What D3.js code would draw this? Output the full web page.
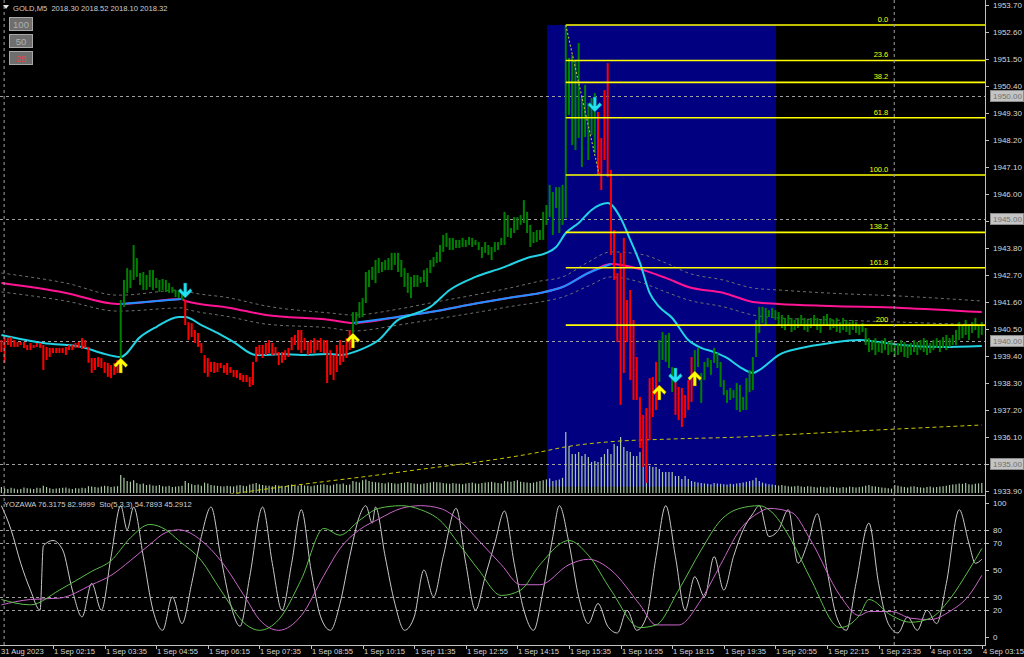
<!DOCTYPE html>
<html><head><meta charset="utf-8">
<script src="https://cdn.jsdelivr.net/npm/d3@7"></script>
<style>
html,body{margin:0;padding:0;background:#000;overflow:hidden;}
svg{display:block;}
text{font-family:Tahoma,"Liberation Sans",Arial,sans-serif;}
</style></head><body>
<svg id="c" width="1024" height="657"></svg>
<script>
// ---------------- DATA ----------------
const symbolTitle = "GOLD,M5";
const headerValues = ["2018.30","2018.52","2018.10","2018.32"];
const oscTitle = "YOZAWA 76.3175 82.9999  Sto(5,3,3) 54.7893 45.2912";

const barHigh = [
1940.05,1940.17,1940.13,1940.17,1940.05,1939.97,1939.97,1939.97,1939.85,1939.93,
1939.85,1939.93,1939.93,1939.85,1939.77,1939.73,1939.73,1939.73,1939.73,1939.73,
1939.77,1939.85,1939.85,1939.93,1939.97,1940.13,1940.05,1939.77,1939.32,1939.32,
1939.36,1939.32,1939.16,1939.12,1939.03,1939.12,1939.24,
1941.68,1942.50,1942.98,1942.90,1943.92,1943.39,1942.78,1942.82,1942.70,1942.90,
1942.90,1942.58,1942.50,1942.54,1942.50,1942.37,1942.21,1942.09,1942.09,1942.01,
1941.68,1940.78,1940.74,1940.46,1940.34,1939.93,1939.44,1939.32,1939.16,1939.16,
1939.12,1939.12,1939.03,1939.12,1938.95,1938.83,1938.83,1938.71,1938.63,1938.63,
1938.55,1939.16,1939.77,1939.85,1939.85,1939.93,1940.05,1939.93,1939.77,1939.56,
1939.56,1939.64,1939.73,1940.17,1940.26,1940.46,1940.46,1940.13,1939.97,1940.05,
1940.13,1940.05,1940.13,1940.05,1940.05,
1939.64,1939.44,1939.85,1940.05,1939.85,1940.13,1940.46,
1941.19,1941.19,1941.60,1941.76,1942.82,1942.90,1943.03,1943.31,1943.39,1943.23,
1943.31,1943.39,1943.60,1943.60,1943.60,1943.31,1942.98,1942.78,1942.62,1942.70,
1942.70,1942.62,1942.90,1942.98,1943.31,1943.43,1943.64,1943.92,1944.33,1944.41,
1944.21,1944.21,1944.13,1944.13,1944.21,1944.13,1944.25,1944.21,1944.13,1944.04,
1943.84,1944.04,1943.92,1943.84,1944.04,1944.04,1944.21,1945.27,1945.14,1944.61,
1945.06,1945.06,1945.14,1945.75,1945.27,1944.74,1944.45,1944.53,1944.53,1945.27,
1945.55,1946.37,1946.08,1946.28,1946.28,1946.37,
1952.88,1951.54,1951.66,1951.46,1952.15,1949.95,1950.44,1949.70,1949.91,1950.11,
1949.34,1948.28,1950.23,1951.33,1946.98,1944.53,1942.78,1943.60,1944.21,1941.68,
1942.09,1940.87,1939.36,1937.73,1937.00,1937.28,1938.50,1938.55,1939.16,1940.05,
1940.38,1940.26,1940.34,1938.95,1938.34,1938.14,1938.10,1937.81,1938.42,1939.36,
1939.64,1939.73,1938.71,1939.16,1939.32,1939.24,1939.73,1939.52,1939.16,1938.42,
1938.01,1938.10,1938.01,1938.30,1938.22,1937.73,1938.50,1938.83,1939.36,1940.87,
1941.40,1941.40,1941.36,1941.27,1941.36,1941.27,
1941.19,1941.07,1940.95,1941.07,1940.95,1940.87,1940.95,1941.07,1940.95,1940.87,
1940.95,1941.07,1940.95,1940.87,1941.03,1941.11,1940.95,1940.87,1940.95,1940.78,
1940.95,1940.87,1940.78,1940.87,1940.78,1940.66,1940.74,1940.54,1940.13,1940.05,
1940.13,1939.97,1940.05,1940.13,1939.97,1940.05,1939.85,1939.93,1940.05,1939.97,
1939.85,1939.93,1940.05,1939.97,1940.05,1940.13,1940.05,1939.93,1940.05,1940.13,
1940.05,1940.17,1940.26,1940.13,1940.26,1940.46,1940.78,1940.66,1940.87,1940.66,
1940.78,1940.95,1940.66,1940.78
];
const barLow = [
1939.56,1939.12,1939.85,1939.77,1939.77,1939.77,1939.85,1939.73,1939.64,1939.64,
1939.73,1939.77,1939.73,1938.83,1939.24,1939.36,1939.52,1939.52,1939.52,1939.52,
1939.44,1939.64,1939.64,1939.73,1939.73,1939.69,1939.73,1939.12,1938.71,1938.83,
1938.95,1938.91,1938.71,1938.55,1938.50,1938.63,1938.71,
1939.32,1941.40,1941.97,1942.17,1942.50,1942.62,1942.29,1942.09,1942.09,1942.21,
1942.09,1942.17,1942.01,1942.09,1942.01,1941.97,1941.97,1941.80,1941.76,1941.68,
1940.66,1940.05,1940.17,1939.93,1939.77,1939.52,1938.71,1938.55,1938.75,1938.71,
1938.75,1938.91,1938.71,1938.63,1938.71,1938.55,1938.50,1938.42,1938.34,1938.34,
1938.14,1938.22,1939.16,1939.44,1939.32,1939.44,1939.52,1939.44,1939.44,1939.03,
1939.12,1939.24,1939.36,1939.64,1939.85,1939.64,1939.52,1939.64,1939.44,1939.52,
1939.52,1939.64,1939.56,1939.52,1938.30,
1938.63,1938.42,1938.75,1939.03,1939.16,1939.32,1939.64,
1940.34,1940.66,1940.95,1940.99,1941.56,1942.21,1942.50,1942.37,1942.78,1942.82,
1942.90,1942.90,1942.90,1943.11,1942.82,1942.62,1942.21,1941.97,1941.76,1942.21,
1942.21,1942.37,1942.41,1942.21,1942.78,1943.03,1943.19,1943.23,1943.64,1943.84,
1943.72,1943.72,1943.80,1943.80,1943.84,1943.84,1943.92,1943.84,1943.92,1943.72,
1943.39,1943.60,1943.51,1943.31,1943.64,1943.72,1943.92,1943.92,1944.25,1944.21,
1944.41,1944.53,1944.74,1944.82,1944.41,1943.84,1944.00,1944.04,1944.13,1944.13,
1944.74,1945.06,1944.33,1945.43,1944.41,1944.74,
1945.02,1949.22,1947.99,1947.79,1948.28,1947.10,1948.32,1947.38,1948.40,1947.67,
1946.77,1946.16,1947.38,1946.69,1943.51,1942.50,1939.97,1937.41,1938.71,1939.97,
1938.42,1937.61,1937.61,1935.66,1934.88,1934.23,1935.98,1936.92,1937.20,1938.34,
1939.24,1939.16,1938.91,1937.93,1937.00,1936.79,1936.51,1936.88,1937.20,1937.53,
1938.22,1938.95,1937.49,1938.42,1938.95,1938.63,1939.12,1938.91,1938.14,1937.81,
1937.49,1937.61,1937.69,1937.20,1937.12,1937.20,1937.20,1937.93,1938.01,1939.36,
1940.34,1940.74,1940.66,1940.99,1940.95,1940.87,
1940.66,1940.54,1940.46,1940.66,1940.38,1940.46,1940.54,1940.62,1940.46,1940.38,
1940.54,1940.66,1940.46,1940.34,1940.62,1940.66,1940.46,1940.54,1940.38,1940.34,
1940.46,1940.38,1940.26,1940.46,1940.34,1940.26,1940.38,1939.85,1939.56,1939.64,
1939.44,1939.56,1939.52,1939.64,1939.44,1939.56,1939.36,1939.44,1939.56,1939.36,
1939.32,1939.44,1939.56,1939.44,1939.64,1939.56,1939.44,1939.52,1939.64,1939.73,
1939.56,1939.73,1939.64,1939.77,1939.85,1939.85,1940.05,1940.13,1940.26,1940.05,
1940.34,1940.46,1940.13,1940.26
];
// colour state of the bars (run lengths)
const trendRuns = [["R",37],["G",20],["R",52],["G",76],["R",19],["G",5],["R",6],["G",90]];

const volumes = [
150,120,100,130,110,90,100,140,120,110, 100,130,120,180,150,120,100,110,120,130,
140,110,100,120,110,130,120,170,160,150, 140,160,180,170,150,160,170,
450,380,300,280,320,250,220,240,200,210, 190,180,200,170,160,180,150,160,170,180,
300,250,220,200,210,180,260,240,200,190, 180,170,160,180,170,160,190,200,180,170,
210,230,250,220,200,190,180,170,200,190, 180,170,200,210,190,180,200,190,180,170,
190,200,210,220,200,190,210,230,220,240,200,210,
300,280,260,320,340,300,280,270,260,250, 240,260,250,240,230,250,260,270,250,240,
230,220,240,250,260,280,270,260,250,240, 230,250,240,230,220,240,250,260,240,230,
250,260,270,280,260,250,240,300,290,280, 300,320,280,270,260,250,260,280,300,320,
340,360,300,320,340,380,
1525,1175,975,975,1025,925,975,900,775,800, 775,900,975,1100,975,1225,1175,1400,1150,1050,
1025,925,925,1025,1025,725,675,650,650,600, 525,525,525,525,425,425,350,425,350,300,
280,260,250,240,230,220,250,240,230,220, 210,230,220,240,250,260,280,300,320,380,
300,260,240,220,210,200,190,200,180,170, 160,170,180,160,150,170,160,150,140,160,
150,140,160,150,140,130,150,140,160,150, 140,150,160,180,200,170,160,150,140,130,
120,110,200,180,160,150,140,160,170,150, 140,130,150,160,140,150,160,170,180,200,
210,220,240,230,250,220,210,230,240,250
];

// fast moving average (cyan), sampled: bar index / price
const fastMABars = [0,13,25,31,37,43,48,55,57,62,67,72,79,82,87,93,102,105,111,117,123,127,133,139,147,155,164,169,172,175,179,183,188,192,195,198,201,204,208,213,217,221,225,229,233,235,239,241,248,257,266,272,279,291,304];
const fastMA = [1940.26,1939.93,1939.77,1939.52,1939.36,1940.17,1940.58,1940.99,1940.99,1940.66,1940.34,1939.97,1939.44,1939.44,1939.48,1939.44,1939.48,1939.44,1939.64,1940.05,1940.87,1941.07,1941.40,1942.09,1942.62,1942.98,1943.43,1943.60,1943.84,1944.41,1944.82,1945.35,1945.63,1945.02,1944.13,1943.19,1941.97,1941.40,1940.95,1940.05,1939.73,1939.56,1939.32,1938.95,1938.71,1938.83,1939.24,1939.44,1939.73,1939.93,1940.05,1939.97,1939.85,1939.77,1939.81];

// slow moving average with envelope
const slowMABars = [0,20,36,37,56,57,71,82,102,109,123,133,148,159,167,174,182,189,198,206,213,224,233,241,257,279,304];
const slowMA     = [1942.37,1941.97,1941.52,1941.52,1941.72,1941.64,1941.36,1941.07,1940.87,1940.74,1940.99,1941.19,1941.56,1941.80,1941.97,1942.21,1942.78,1943.15,1942.94,1942.58,1942.21,1941.97,1941.60,1941.52,1941.44,1941.36,1941.19];
const slowUpper  = [1942.78,1942.37,1941.88,1941.88,1942.09,1942.05,1941.76,1941.44,1941.15,1941.07,1941.31,1941.56,1941.92,1942.21,1942.45,1942.62,1943.23,1943.64,1943.55,1943.19,1942.78,1942.49,1942.17,1942.09,1941.96,1941.84,1941.64];
const slowLower  = [1942.01,1941.64,1941.23,1941.23,1941.36,1941.32,1940.99,1940.70,1940.54,1940.42,1940.66,1940.87,1941.19,1941.44,1941.60,1941.80,1942.25,1942.62,1942.41,1942.01,1941.68,1941.40,1941.07,1940.95,1940.87,1940.78,1940.66];
const slowRisingRanges = [[37,56],[109,189]];

// long moving average (yellow dashed)
const longMABars = [60,74,124,167,175,188,208,229,241,272,304];
const longMA = [1933.54,1933.83,1934.68,1935.49,1935.70,1935.90,1936.02,1936.10,1936.18,1936.39,1936.59];

// signal arrows
const upArrowBars = [37,109,204,215];
const upArrowPrices = [1939.32,1940.34,1938.22,1938.79];
const downArrowBars = [57,184,209];
const downArrowPrices = [1941.76,1949.34,1938.30];

// fibonacci retracement
const fibLevels = [0,23.6,38.2,61.8,100,138.2,161.8,200];
const fibLabels = ["0.0","23.6","38.2","61.8","100.0","138.2","161.8","200"];
const fibHighPrice = 1952.88, fibLowPrice = 1946.77;
const fibStartBar = 175, fibEndBar = 185.4, fibLabelBar = 275;

// rectangle object
const boxBars = [169.2, 240.2];
const boxPrices = [1952.88, 1934.08];

// horizontal lines with price labels
const hLinePrices = [1950.00,1945.00,1940.00,1935.00];
const priceTicks = [1953.70,1952.60,1951.50,1950.40,1949.30,1948.20,1947.10,1946.00,1944.90,1943.80,1942.70,1941.60,1940.50,1939.40,1938.30,1937.20,1936.10,1935.00,1933.90];
const separatorBars = [1, 277];

const timeLabels = ["31 Aug 2023","1 Sep 02:15","1 Sep 03:35","1 Sep 04:55","1 Sep 06:15","1 Sep 07:35","1 Sep 08:55","1 Sep 10:15","1 Sep 11:35","1 Sep 12:55","1 Sep 14:15","1 Sep 15:35","1 Sep 16:55","1 Sep 18:15","1 Sep 19:35","1 Sep 20:55","1 Sep 22:15","1 Sep 23:35","4 Sep 01:55","4 Sep 03:15"];
const timeLabelBars = [0,16,32,48,64,80,96,112,128,144,160,176,192,208,224,240,256,272,288,304];

// oscillator
const oscTicks = [100,80,70,50,30,20,0];
const oscLevels = [80,70,30,20];
const yozawaBars = [0,3,6,9,12,13,16,19,22,25,28,31,34,37,39,41,44,47,50,53,56,59,62,65,68,71,74,77,81,84,87,90,93,96,99,102,105,108,111,113,115,116,119,122,125,128,131,134,137,141,144,147,150,153,156,159,162,165,168,171,173,176,179,182,185,188,191,194,197,200,203,206,209,212,215,218,221,224,227,230,233,235,238,241,244,247,250,253,256,259,262,265,269,272,275,278,281,284,287,290,293,297,300,302,304];
const yozawa = [98,80,55,35,20,68,72,65,35,15,40,20,60,98,80,97,60,20,5,30,10,40,75,97,60,25,8,45,97,55,20,55,95,50,15,5,25,60,90,98,85,97,60,25,5,15,50,30,60,96,55,20,45,70,94,55,20,5,35,75,98,70,30,10,25,8,3,20,5,15,60,98,60,20,45,30,60,35,60,80,92,98,75,80,95,55,70,92,50,15,5,40,85,40,10,3,15,5,20,10,40,95,70,55,58];
const stoBars = [0,9,18,28,34,40,46,51,55,62,68,76,80,86,93,100,105,111,117,124,130,136,142,148,155,161,167,176,182,189,198,203,210,217,223,229,235,238,245,251,260,266,269,276,282,288,294,300,304];
const stoMain = [28,24,35,49,57,74,84,80,72,57,35,9,5,13,43,81,76,87,96,98,95,87,69,50,31,35,54,72,61,35,7,9,35,65,87,96,98,95,72,43,7,16,28,16,11,14,28,50,66];
const stoSignal = [24,28,29,39,46,57,69,78,80,72,57,28,13,5,16,46,66,80,88,96,98,96,87,72,54,39,39,54,58,50,24,9,9,28,54,80,93,96,93,72,31,16,19,19,14,13,19,31,46];

// ---------------- DRAWING ----------------
const svg = d3.select("#c");
const PR = 985;           // right edge of plot area
const PB = 494;           // bottom of price panel
const OT = 496, OB = 645; // oscillator panel

const x = d3.scaleLinear().domain([0,304]).range([1.4,981.8]);
const y = d3.scaleLinear().domain([1933.78,1953.90]).range([PB,0]);
const yo = d3.scaleLinear().domain([0,100]).range([637,503]);
const yv = d3.scaleLinear().domain([0,2500]).range([493,393]);

svg.append("rect").attr("width",1024).attr("height",657).attr("fill","#000");

const defs = svg.append("defs");
defs.append("clipPath").attr("id","cp").append("rect").attr("x",0).attr("y",0).attr("width",PR).attr("height",PB);
defs.append("clipPath").attr("id","co").append("rect").attr("x",0).attr("y",OT).attr("width",PR).attr("height",OB-OT);

const gP = svg.append("g").attr("clip-path","url(#cp)");
const gO = svg.append("g").attr("clip-path","url(#co)");

// rectangle object
gP.append("rect")
  .attr("x",x(boxBars[0])).attr("width",x(boxBars[1])-x(boxBars[0]))
  .attr("y",y(boxPrices[0])).attr("height",y(boxPrices[1])-y(boxPrices[0]))
  .attr("fill","#000080");

// horizontal price lines
gP.selectAll("line.hl").data(hLinePrices).join("line")
  .attr("x1",0).attr("x2",PR).attr("y1",d=>Math.round(y(d))+0.5).attr("y2",d=>Math.round(y(d))+0.5)
  .attr("stroke","#a0a0a0").attr("stroke-width",1).attr("stroke-dasharray","3,3");

// volumes
gP.selectAll("line.vol").data(volumes).join("line")
  .attr("x1",(d,i)=>x(i)).attr("x2",(d,i)=>x(i))
  .attr("y1",yv(0)).attr("y2",d=>yv(d))
  .attr("stroke","#a9c8a2").attr("stroke-width",1.2);

// long MA
gP.append("path").datum(longMABars.map((b,i)=>[b,longMA[i]]))
  .attr("d",d3.line().x(d=>x(d[0])).y(d=>y(d[1])).curve(d3.curveMonotoneX))
  .attr("fill","none").attr("stroke","#c8c800").attr("stroke-width",1).attr("stroke-dasharray","4,3");

const lineP = d3.line().x(d=>x(d[0])).y(d=>y(d[1])).curve(d3.curveMonotoneX);
// envelopes
[slowUpper, slowLower].forEach(arr=>{
  gP.append("path").datum(slowMABars.map((b,i)=>[b,arr[i]]))
    .attr("d",lineP).attr("fill","none").attr("stroke","#6e6e6e").attr("stroke-width",1).attr("stroke-dasharray","3,3");
});
// slow MA (pink, blue when rising)
const slowPts = slowMABars.map((b,i)=>[b,slowMA[i]]);
gP.append("path").datum(slowPts).attr("d",lineP).attr("fill","none").attr("stroke","#ff1493").attr("stroke-width",2);
slowRisingRanges.forEach(([a,b])=>{
  gP.append("path").datum(slowPts.filter(p=>p[0]>=a&&p[0]<=b)).attr("d",lineP)
    .attr("fill","none").attr("stroke","#1e90ff").attr("stroke-width",2);
});
// fast MA
gP.append("path").datum(fastMABars.map((b,i)=>[b,fastMA[i]]))
  .attr("d",lineP).attr("fill","none").attr("stroke","#22d3e6").attr("stroke-width",2);

// bars
const barDir = [];
trendRuns.forEach(([d,n])=>{for(let k=0;k<n;k++) barDir.push(d);});
const bars = barHigh.map((h,i)=>({i:i,h:h,l:barLow[i],d:barDir[i]}));
gP.selectAll("rect.bar").data(bars).join("rect")
  .attr("x",d=>x(d.i)-1).attr("width",2)
  .attr("y",d=>y(d.h)).attr("height",d=>Math.max(1,y(d.l)-y(d.h)))
  .attr("fill",d=>d.d==="G"?"#008000":"#ff0000");

// fibonacci
const fibY = lv => y(fibHighPrice - (fibHighPrice-fibLowPrice)*lv/100);
gP.selectAll("line.fib").data(fibLevels).join("line")
  .attr("x1",x(fibStartBar)).attr("x2",PR)
  .attr("y1",d=>fibY(d)).attr("y2",d=>fibY(d))
  .attr("stroke","#ffff00").attr("stroke-width",1.6);
gP.selectAll("text.fib").data(fibLevels).join("text")
  .attr("x",x(fibLabelBar)).attr("y",d=>fibY(d)-3)
  .attr("text-anchor","end").attr("font-size","7.5px").attr("fill","#ffff00")
  .text((d,i)=>fibLabels[i]);
gP.append("line")
  .attr("x1",x(fibStartBar)).attr("y1",y(fibHighPrice))
  .attr("x2",x(fibEndBar)).attr("y2",y(fibLowPrice))
  .attr("stroke","#b4b44a").attr("stroke-width",1.2).attr("stroke-dasharray","2,2");

// arrows
const upPath = "M0,0 L7,7 L5,9.5 L1.6,6 L1.6,15 L-1.6,15 L-1.6,6 L-5,9.5 L-7,7 Z";
gP.selectAll("path.up").data(upArrowBars).join("path")
  .attr("d",upPath)
  .attr("transform",(d,i)=>`translate(${x(d)},${y(upArrowPrices[i])})`)
  .attr("fill","#ffff00").attr("stroke","#806000").attr("stroke-width",0.4);
gP.selectAll("path.dn").data(downArrowBars).join("path")
  .attr("d",upPath)
  .attr("transform",(d,i)=>`translate(${x(d)},${y(downArrowPrices[i])}) scale(1,-1)`)
  .attr("fill","#22e0f0").attr("stroke","#006070").attr("stroke-width",0.4);

// period separators
separatorBars.forEach(b=>{
  svg.append("line").attr("x1",x(b)-0.5).attr("x2",x(b)-0.5).attr("y1",0).attr("y2",OB)
    .attr("stroke","#a0a0a0").attr("stroke-dasharray","3,3");
});

// header + buttons
svg.append("path").attr("d","M3,5 L9,5 L6,9 Z").attr("fill","#e0e0e0");
svg.append("text").attr("x",13).attr("y",11).attr("font-size","7.6px").attr("fill","#d0d0d0")
  .style("white-space","pre").text(symbolTitle+"  "+headerValues.join(" "));
const buttons = [["100",17,"#b0b0b0"],["50",34,"#b0b0b0"],["25",51,"#e04848"]];
buttons.forEach(([t,top,c])=>{
  svg.append("rect").attr("x",9.5).attr("y",top+0.5).attr("width",23).attr("height",13)
    .attr("fill","#6e6e6e").attr("stroke","#a8a8a8");
  svg.append("text").attr("x",21).attr("y",top+10.5).attr("text-anchor","middle")
    .attr("font-size","9.5px").attr("fill",c).text(t);
});

// ---------------- oscillator ----------------
gO.selectAll("line.lv").data(oscLevels).join("line")
  .attr("x1",0).attr("x2",PR).attr("y1",d=>Math.round(yo(d))+0.5).attr("y2",d=>Math.round(yo(d))+0.5)
  .attr("stroke","#a0a0a0").attr("stroke-dasharray","3,3");
const lineO = d3.line().x(d=>x(d[0])).y(d=>yo(d[1])).curve(d3.curveMonotoneX);
gO.append("path").datum(yozawaBars.map((b,i)=>[b,yozawa[i]])).attr("d",lineO)
  .attr("fill","none").attr("stroke","#c8c8c8").attr("stroke-width",1);
gO.append("path").datum(stoBars.map((b,i)=>[b,stoSignal[i]])).attr("d",lineO)
  .attr("fill","none").attr("stroke","#cc66cc").attr("stroke-width",1);
gO.append("path").datum(stoBars.map((b,i)=>[b,stoMain[i]])).attr("d",lineO)
  .attr("fill","none").attr("stroke","#5cbf4a").attr("stroke-width",1);
svg.append("text").attr("x",4).attr("y",507).attr("font-size","7.6px").attr("fill","#d0d0d0")
  .style("white-space","pre").text(oscTitle);

// ---------------- frame & axes ----------------
svg.append("line").attr("x1",PR+0.5).attr("x2",PR+0.5).attr("y1",0).attr("y2",OB).attr("stroke","#c0c0c0");
svg.append("line").attr("x1",0).attr("x2",PR).attr("y1",PB+1.5).attr("y2",PB+1.5).attr("stroke","#b0b0b0");
svg.append("line").attr("x1",0).attr("x2",PR+1).attr("y1",OB+0.5).attr("y2",OB+0.5).attr("stroke","#c0c0c0");

// price axis
const pa = svg.append("g");
pa.selectAll("line").data(priceTicks).join("line")
  .attr("x1",PR+1).attr("x2",PR+4).attr("y1",d=>Math.round(y(d))+0.5).attr("y2",d=>Math.round(y(d))+0.5).attr("stroke","#c0c0c0");
pa.selectAll("text").data(priceTicks).join("text")
  .attr("x",993).attr("y",d=>y(d)+3).attr("font-size","8px").attr("fill","#d8d8d8")
  .text(d=>d.toFixed(2));
hLinePrices.forEach(p=>{
  const yy = Math.round(y(p));
  svg.append("rect").attr("x",990.5).attr("y",yy-5.5).attr("width",33).attr("height",11)
    .attr("fill","#c4c4c4").attr("stroke","#8a8a8a");
  svg.append("text").attr("x",993).attr("y",yy+3).attr("font-size","8px").attr("fill","#707070").text(p.toFixed(2));
});

// oscillator axis
const oa = svg.append("g");
oa.selectAll("line").data(oscTicks).join("line")
  .attr("x1",PR+1).attr("x2",PR+4).attr("y1",d=>Math.round(yo(d))+0.5).attr("y2",d=>Math.round(yo(d))+0.5).attr("stroke","#c0c0c0");
oa.selectAll("text").data(oscTicks).join("text")
  .attr("x",993).attr("y",d=>yo(d)+3).attr("font-size","8px").attr("fill","#d0dcea").text(d=>d);

// time axis
const ta = svg.append("g");
ta.selectAll("line").data(timeLabelBars.slice(1)).join("line")
  .attr("x1",d=>Math.round(x(d))+0.5).attr("x2",d=>Math.round(x(d))+0.5).attr("y1",OB).attr("y2",OB+4).attr("stroke","#c0c0c0");
ta.selectAll("text").data(timeLabels).join("text")
  .attr("x",(d,i)=>i===0?1:Math.round(x(timeLabelBars[i]))+1).attr("y",654)
  .attr("font-size","7.6px").attr("fill","#d8d8d8").text(d=>d);
</script>
</body></html>
